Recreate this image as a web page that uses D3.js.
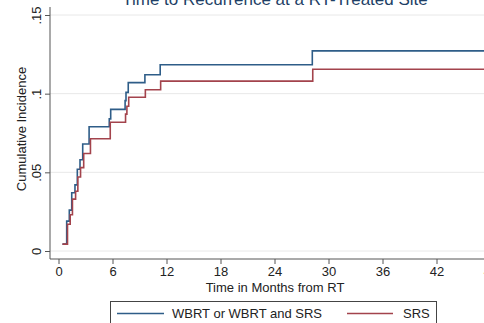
<!DOCTYPE html>
<html>
<head>
<meta charset="utf-8">
<script src="https://cdn.jsdelivr.net/npm/d3@7"></script>
<style>
  html, body { margin: 0; padding: 0; background: #fff; }
  svg { display: block; font-family: "Liberation Sans", Arial, sans-serif; }
</style>
</head>
<body>
<svg id="chart" width="484" height="323"></svg>
<script>
// ---- data ----
const titleText = "Time to Recurrence at a RT-Treated Site";
const xTicks = [0, 6, 12, 18, 24, 30, 36, 42, 48];
const yTicks = [0, 0.05, 0.1, 0.15];
const yTickLabels = ["0", ".05", ".1", ".15"];
const seriesNames = ["WBRT or WBRT and SRS", "SRS"];
// step times (months) and cumulative incidence after each step
const wbrtTimes  = [0.44, 0.91, 1.2, 1.47, 1.83, 2.09, 2.39, 2.69, 3.4, 5.64, 5.8, 7.4, 7.5, 7.75, 9.6, 11.3, 28.2, 48];
const wbrtValues = [0.0044, 0.019, 0.026, 0.037, 0.042, 0.052, 0.058, 0.068, 0.079, 0.084, 0.090, 0.0956, 0.1008, 0.107, 0.112, 0.1184, 0.1272, 0.1272];
const srsTimes   = [0.44, 1.0, 1.3, 1.55, 1.9, 2.15, 2.45, 2.8, 3.55, 5.75, 7.45, 7.6, 7.8, 9.65, 11.35, 28.25, 48];
const srsValues  = [0.0044, 0.017, 0.023, 0.033, 0.038, 0.047, 0.053, 0.062, 0.0713, 0.0818, 0.087, 0.092, 0.0977, 0.1025, 0.108, 0.1155, 0.1155];
const colors = ["#2e5d88", "#a3434c"];

// ---- drawing ----
const svg = d3.select("#chart");
const axisX = 50, axisY = 259;
const x = d3.scaleLinear().domain([0, 48]).range([58.5, 490.5]);
const y = d3.scaleLinear().domain([0, 0.15]).range([251, 15]);
const axisColor = "#555";

// gridlines
svg.append("g").selectAll("line").data(yTicks).join("line")
  .attr("x1", axisX).attr("x2", 484)
  .attr("y1", d => y(d)).attr("y2", d => y(d))
  .attr("stroke", "#e8e8e8").attr("stroke-width", 1);

// y axis
const yAxis = d3.axisLeft(y).tickValues(yTicks)
  .tickFormat((d, i) => yTickLabels[i]).tickSize(5).tickPadding(4);
const gy = svg.append("g").attr("transform", `translate(${axisX},0)`).call(yAxis);
gy.select(".domain").remove();
gy.append("line").attr("x1", 0).attr("x2", 0).attr("y1", 7).attr("y2", axisY).attr("stroke", axisColor);
gy.selectAll(".tick line").attr("stroke", axisColor);
gy.selectAll(".tick text")
  .attr("font-size", 13).attr("fill", "#222")
  .attr("font-family", "Liberation Sans, Arial, sans-serif")
  .attr("text-anchor", "middle")
  .attr("transform", "translate(-13,0) rotate(-90)")
  .attr("x", 0).attr("dy", "0.32em").attr("y", 0);

// x axis
const xAxis = d3.axisBottom(x).tickValues(xTicks).tickSize(5).tickPadding(3);
const gx = svg.append("g").attr("transform", `translate(0,${axisY})`).call(xAxis);
gx.select(".domain").remove();
gx.append("line").attr("x1", axisX).attr("x2", 484).attr("y1", 0).attr("y2", 0).attr("stroke", axisColor);
gx.selectAll(".tick line").attr("stroke", axisColor);
gx.selectAll(".tick text").attr("font-size", 13).attr("fill", "#222")
  .attr("font-family", "Liberation Sans, Arial, sans-serif");

// axis titles
svg.append("text").attr("x", 275).attr("y", 292).attr("text-anchor", "middle")
  .attr("font-size", 13).attr("fill", "#222").text("Time in Months from RT");
svg.append("text").attr("transform", "translate(26,129) rotate(-90)")
  .attr("text-anchor", "middle").attr("font-size", 13).attr("fill", "#222")
  .text("Cumulative Incidence");

// title (cut off at the top, as in the reference)
svg.append("text").attr("x", 275).attr("y", 5).attr("text-anchor", "middle")
  .attr("font-size", 17).attr("fill", "#1e3f66").text(titleText);

// step curves
const line = d3.line().x(d => x(d[0])).y(d => y(d[1])).curve(d3.curveStepAfter);
const series = [d3.zip(wbrtTimes, wbrtValues), d3.zip(srsTimes, srsValues)];
svg.append("g").selectAll("path").data(series).join("path")
  .attr("d", line).attr("fill", "none")
  .attr("stroke", (d, i) => colors[i]).attr("stroke-width", 1.6);

// legend
const lg = svg.append("g");
lg.append("rect").attr("x", 110.5).attr("y", 301.5).attr("width", 326).attr("height", 40)
  .attr("fill", "#fff").attr("stroke", "#444").attr("stroke-width", 1);
const legendItems = [
  { lx1: 117, lx2: 164, tx: 172 },
  { lx1: 347, lx2: 393, tx: 403 }
];
legendItems.forEach((it, i) => {
  lg.append("line").attr("x1", it.lx1).attr("x2", it.lx2).attr("y1", 313.5).attr("y2", 313.5)
    .attr("stroke", colors[i]).attr("stroke-width", 1.6);
  lg.append("text").attr("x", it.tx).attr("y", 318).attr("font-size", 13).attr("fill", "#222")
    .text(seriesNames[i]);
});
</script>
</body>
</html>
